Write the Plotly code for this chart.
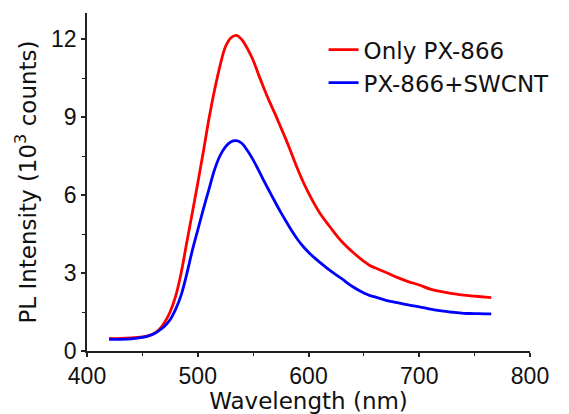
import plotly.graph_objects as go

wavelength = [420, 430, 440, 450, 455, 460, 465, 470, 475, 480, 485, 490, 495, 500, 505,
              510, 515, 520, 525, 530, 535, 540, 545, 550, 555, 560, 565, 570, 575, 580,
              585, 590, 595, 600, 605, 610, 620, 630, 640, 650, 655, 660, 670, 680, 690, 700,
              710, 720, 730, 740, 750, 760, 765]

only_px866 = [0.48, 0.48, 0.50, 0.54, 0.58, 0.66, 0.82, 1.10, 1.50, 2.10, 3.00, 4.15, 5.30, 6.45, 7.65,
              8.90, 10.00, 10.95, 11.70, 12.05, 12.14, 11.96, 11.62, 11.18, 10.62, 10.08, 9.57, 9.10, 8.60, 8.10,
              7.56, 7.02, 6.52, 6.08, 5.68, 5.32, 4.74, 4.21, 3.80, 3.45, 3.30, 3.20, 3.02, 2.83, 2.67, 2.54,
              2.38, 2.28, 2.21, 2.15, 2.11, 2.07, 2.05]

px866_swcnt = [0.45, 0.45, 0.47, 0.52, 0.57, 0.65, 0.78, 0.95, 1.20, 1.60, 2.15, 2.95, 3.85, 4.65, 5.45,
               6.20, 6.95, 7.50, 7.85, 8.05, 8.09, 7.98, 7.70, 7.35, 6.95, 6.52, 6.12, 5.72, 5.33, 4.97,
               4.62, 4.30, 4.03, 3.80, 3.60, 3.42, 3.08, 2.78, 2.47, 2.23, 2.14, 2.08, 1.95, 1.86, 1.77, 1.70,
               1.61, 1.54, 1.49, 1.45, 1.44, 1.43, 1.43]

x_ticks = [400, 500, 600, 700, 800]
y_ticks = [0, 3, 6, 9, 12]

tick_font = "Liberation Sans, Arial, sans-serif"
title_font = "DejaVu Sans, Liberation Sans, Arial, sans-serif"
ink = "#111111"

fig = go.Figure()
fig.add_trace(go.Scatter(x=wavelength, y=only_px866, mode="lines", name="Only PX-866",
                         line=dict(color="#FF0000", width=2.8, shape="spline")))
fig.add_trace(go.Scatter(x=wavelength, y=px866_swcnt, mode="lines", name="PX-866+SWCNT",
                         line=dict(color="#0000FF", width=2.8, shape="spline")))

axis_common = dict(showgrid=False, zeroline=False, showline=True, linecolor="#222222", linewidth=1.6,
                   ticks="outside", ticklen=4, tickwidth=1.5, tickcolor="#222222", automargin=False,
                   tickfont=dict(size=23, color=ink, family=tick_font))

fig.update_xaxes(range=[400, 800], tickvals=x_ticks,
                 title=dict(text="Wavelength (nm)", standoff=0,
                            font=dict(size=23, color=ink, family=title_font)),
                 minor=dict(dtick=50, tick0=400, ticks="outside", ticklen=3, tickcolor="#222222", tickwidth=1.2),
                 **axis_common)
fig.update_yaxes(range=[0, 13], tickvals=y_ticks,
                 title=dict(text="PL Intensity (10<sup>3</sup> counts)", standoff=8,
                            font=dict(size=23, color=ink, family=title_font)),
                 minor=dict(dtick=1.5, tick0=0, ticks="outside", ticklen=3, tickcolor="#222222", tickwidth=1.2),
                 **axis_common)

fig.update_layout(
    width=569, height=414,
    margin=dict(l=87, r=39, t=13, b=63),
    paper_bgcolor="white", plot_bgcolor="white",
    font=dict(family=title_font, size=22, color=ink),
    legend=dict(x=0.534, y=0.955, xanchor="left", yanchor="top", bgcolor="rgba(0,0,0,0)",
                font=dict(size=23, family=title_font, color=ink)),
)

fig.write_html("out.html", config={"displayModeBar": False},
               post_script="document.body.style.margin='0';document.body.style.padding='0';")
